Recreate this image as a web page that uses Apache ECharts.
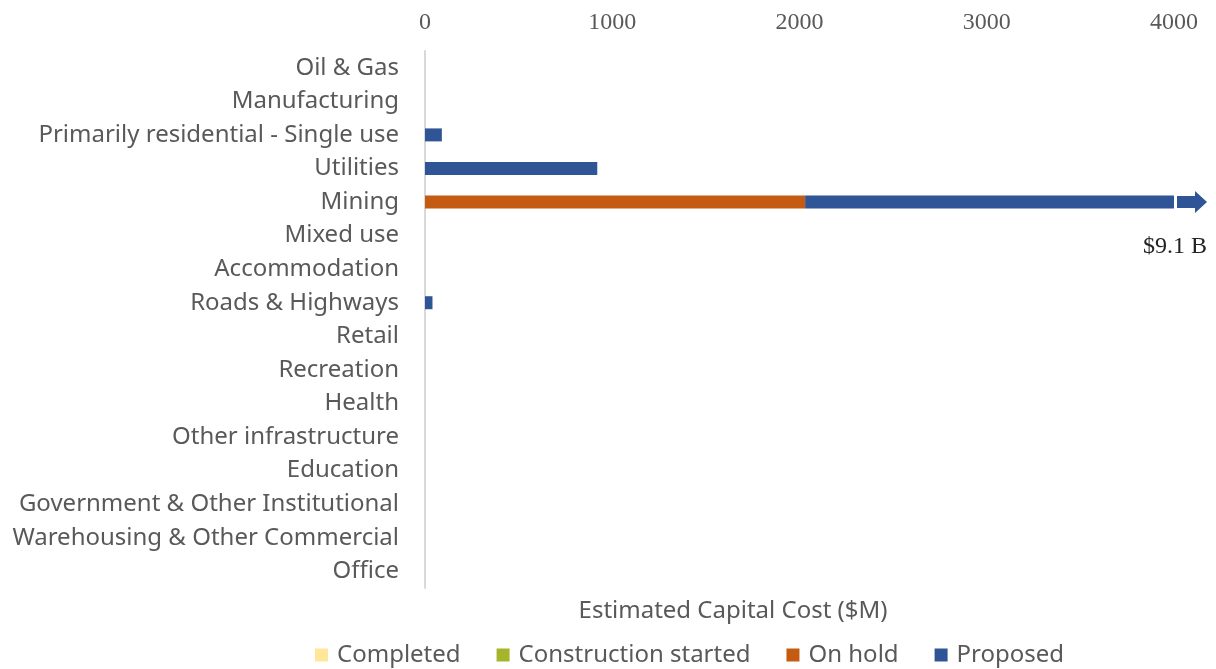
<!DOCTYPE html>
<html>
<head>
<meta charset="utf-8">
<script src="https://cdn.jsdelivr.net/npm/echarts@6/dist/echarts.min.js"></script>
<style>
  html, body { margin: 0; padding: 0; background: #fff; }
  #main { width: 1216px; height: 669px; }
</style>
</head>
<body>
<div id="main"></div>
<script>
// sectors, top to bottom
const categories = [
  'Oil & Gas', 'Manufacturing', 'Primarily residential - Single use', 'Utilities',
  'Mining', 'Mixed use', 'Accommodation', 'Roads & Highways', 'Retail', 'Recreation',
  'Health', 'Other infrastructure', 'Education', 'Government & Other Institutional',
  'Warehousing & Other Commercial', 'Office'
];
const completed =           [0, 0, 0, 0, 0, 0, 0, 0, 0, 0, 0, 0, 0, 0, 0, 0];
const constructionStarted = [0, 0, 0, 0, 0, 0, 0, 0, 0, 0, 0, 0, 0, 0, 0, 0];
const onHold =              [0, 0, 0, 0, 2030, 0, 0, 0, 0, 0, 0, 0, 0, 0, 0, 0];
const proposed =            [0, 0, 90, 920, 7070, 0, 0, 40, 0, 0, 0, 0, 0, 0, 0, 0];
const xTicks = [0, 1000, 2000, 3000, 4000];
const axisMax = 4000;

const chartDom = document.getElementById('main');
const myChart = echarts.init(chartDom);

// bars longer than the axis get an arrow + total label
const overflow = [];
categories.forEach((c, i) => {
  const total = completed[i] + constructionStarted[i] + onHold[i] + proposed[i];
  if (total > axisMax) overflow.push({ value: [axisMax, c], total: total });
});

const grey = '#595959';
const sansFont = '"Noto Sans", sans-serif';
const serifFont = '"Liberation Serif", serif';

function barSeries(name, data, color) {
  return {
    name: name,
    type: 'bar',
    stack: 'total',
    barWidth: 13,
    clip: true,
    itemStyle: { color: color },
    data: data
  };
}

const option = {
  animation: false,
  title: {
    text: 'Estimated Capital Cost ($M)',
    left: 728,
    top: 594,
    textAlign: 'center',
    textStyle: { fontFamily: sansFont, fontSize: 24, fontWeight: 'normal', color: grey }
  },
  legend: {
    data: ['Completed', 'Construction started', 'On hold', 'Proposed'],
    top: 638,
    left: 310,
    icon: 'rect',
    itemWidth: 13,
    itemHeight: 13,
    itemGap: 36,
    textStyle: { fontFamily: sansFont, fontSize: 24, color: grey, padding: [0, 0, 0, 4] }
  },
  grid: {
    left: 425,
    right: 42,
    top: 51,
    bottom: 81
  },
  xAxis: {
    type: 'value',
    position: 'top',
    min: 0,
    max: axisMax,
    interval: xTicks[1] - xTicks[0],
    splitLine: { show: false },
    axisLine: { show: false },
    axisTick: { show: false },
    axisLabel: {
      margin: 16,
      formatter: v => String(v),
      fontFamily: serifFont,
      fontSize: 24,
      color: grey
    }
  },
  yAxis: {
    type: 'category',
    inverse: true,
    data: categories,
    axisLine: { show: true, lineStyle: { color: '#D9D9D9', width: 2 } },
    axisTick: { show: false },
    axisLabel: {
      margin: 26,
      fontFamily: sansFont,
      fontSize: 24,
      color: grey
    }
  },
  series: [
    barSeries('Completed', completed, '#FFE699'),
    barSeries('Construction started', constructionStarted, '#A5B42B'),
    barSeries('On hold', onHold, '#C55A11'),
    barSeries('Proposed', proposed, '#2F5597'),
    {
      name: 'overflow',
      type: 'scatter',
      clip: false,
      silent: true,
      z: 5,
      symbol: 'path://M0,5 L18,5 L18,0 L30,11 L18,22 L18,17 L0,17 Z',
      symbolSize: [30, 22],
      symbolOffset: [18, 0],
      itemStyle: { color: '#2F5597', opacity: 1 },
      label: {
        show: true,
        position: 'bottom',
        distance: 22,
        align: 'right',
        offset: [15, 0],
        formatter: p => '$' + (p.data.total / 1000).toFixed(1) + ' B',
        fontFamily: serifFont,
        fontSize: 24,
        color: '#222'
      },
      data: overflow
    }
  ]
};

option && myChart.setOption(option);
</script>
</body>
</html>
